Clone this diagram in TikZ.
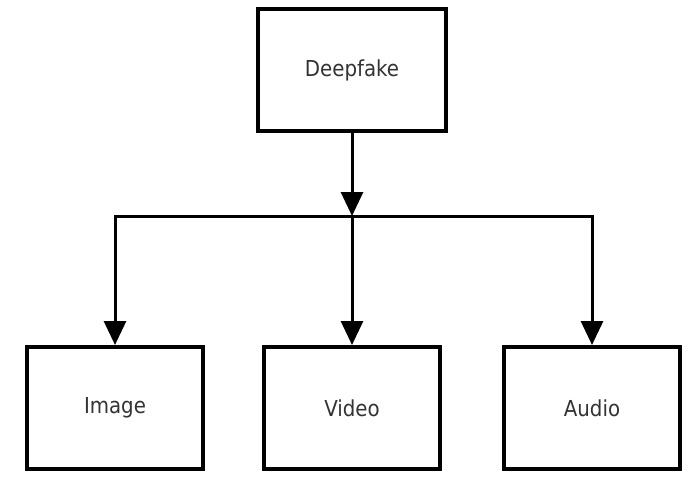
\documentclass[tikz,border=0pt]{standalone}
\usepackage{fontspec}
\setmainfont{DejaVu Sans Condensed}
\usetikzlibrary{arrows.meta}
\begin{document}
\begin{tikzpicture}[x=1pt,y=-1pt,
  box/.style={draw, line width=4pt, minimum width=176pt, minimum height=122pt, font=\fontsize{22}{26}\selectfont, text=black!80},
  arr/.style={line width=3pt, -{Triangle[length=24pt,width=22pt]}}]
\useasboundingbox (0,0) rectangle (700,476);
\node[box, minimum width=188pt] (deepfake) at (352,70) {Deepfake};
\node[box] (image) at (115,408) {Image};
\node[box] (video) at (352,408) {Video};
\node[box] (audio) at (592,408) {Audio};
\coordinate (split) at (352,216);
\draw[arr] (deepfake) -- (split);
\draw[arr] (split) -| (image);
\draw[arr] (split) -- (video);
\draw[arr] (split) -| (audio);
\end{tikzpicture}
\end{document}
